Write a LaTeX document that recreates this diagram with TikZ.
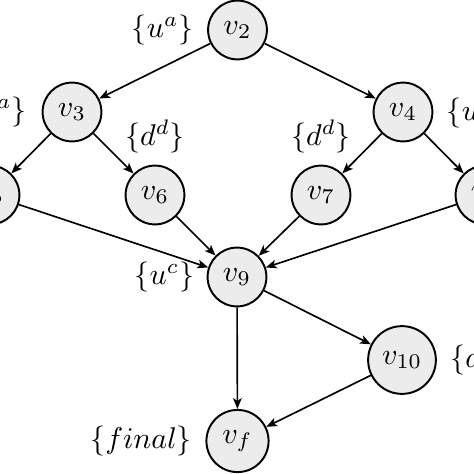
\documentclass[tikz,border=0pt]{standalone}
\usetikzlibrary{arrows.meta}
\begin{document}
\begin{tikzpicture}[x={(0.33333pt,0)}, y={(0,-0.33333pt)},
  vnode/.style={circle, draw, line width=0.65pt, fill=gray!15, minimum size=19.6pt, inner sep=3pt},
  lab/.style={inner sep=0pt},
  edge/.style={line width=0.55pt, -{Stealth[length=3.6pt,width=2.9pt,inset=0.9pt]}}]
\useasboundingbox (0,0) rectangle (474,474);
\clip (0,0) rectangle (474,474);
\node[vnode] (v2) at (237.5,30) {$v_2$};
\node[vnode] (v3) at (72,112) {$v_3$};
\node[vnode] (v4) at (403,112) {$v_4$};
\node[vnode] (v5) at (-10,195) {$v_5$};
\node[vnode] (v6) at (155,195) {$v_6$};
\node[vnode] (v7) at (321,195) {$v_7$};
\node[vnode] (v8) at (485,195) {$v_8$};
\node[vnode] (v9) at (237,277) {$v_9$};
\node[vnode] (v10) at (402,360) {$v_{10}$};
\node[vnode] (vf) at (237.5,441) {$v_f$};
\coordinate (top) at (237.5,-40);
% labels
\node[lab, anchor=east] (l2) at ([xshift=-4.3pt]v2.west) {$\{u^a\}$};
\node[lab, anchor=east] (l3) at ([xshift=-4.8pt]v3.west) {$\{u^a\}$};
\node[lab, anchor=west] (l4) at ([xshift=4.3pt]v4.east) {$\{u^b\}$};
\node[lab, anchor=south] (l6) at ([yshift=3.8pt]v6.north) {$\{d^d\}$};
\node[lab, anchor=south] (l7) at ([yshift=3.8pt]v7.north) {$\{d^d\}$};
\node[lab, anchor=east] (l9) at ([xshift=-4pt]v9.west) {$\{u^c\}$};
\node[lab, anchor=west] (l10) at ([xshift=4.3pt]v10.east) {$\{d^a\}$};
\node[lab, anchor=east] (lf) at ([xshift=-4.3pt]vf.west) {$\{final\}$};
% edges
\draw[edge] (top) -- (v2);
\draw[edge] (v2) -- (v3);
\draw[edge] (v2) -- (v4);
\draw[edge] (v3) -- (v5);
\draw[edge] (v3) -- (v6);
\draw[edge] (v4) -- (v7);
\draw[edge] (v4) -- (v8);
\draw[edge] (v5) -- (v9);
\draw[edge] (v6) -- (v9);
\draw[edge] (v7) -- (v9);
\draw[edge] (v8) -- (v9);
\draw[edge] (v9) -- (vf);
\draw[edge] (v9) -- (v10);
\draw[edge] (v10) -- (vf);
\end{tikzpicture}
\end{document}
